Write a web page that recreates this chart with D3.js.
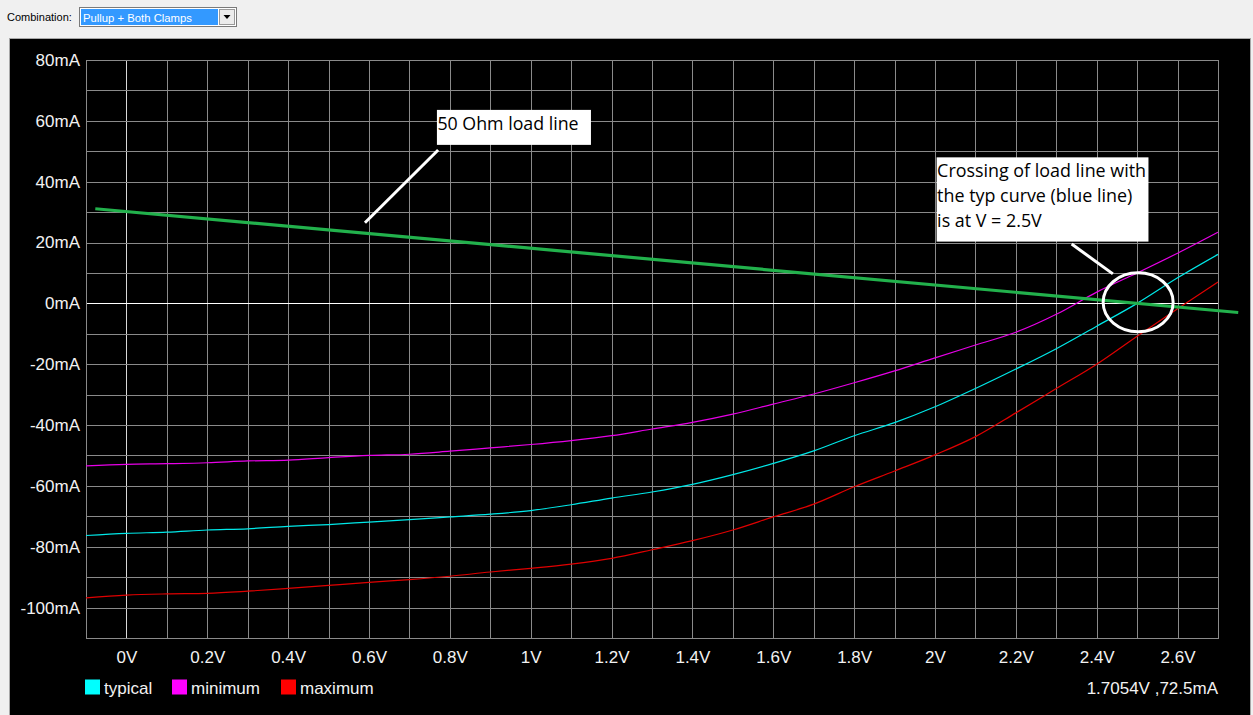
<!DOCTYPE html>
<html>
<head>
<meta charset="utf-8">
<script src="https://cdn.jsdelivr.net/npm/d3@7"></script>
<style>
  html, body { margin: 0; padding: 0; background: #f0f0f0; }
  svg { display: block; }
</style>
</head>
<body>
<svg id="chart" width="1253" height="715"></svg>
<script>
// Voltage sweep (V) shared by all three I/V curves
const volts = [-0.1, 0, 0.1, 0.2, 0.3, 0.4, 0.5, 0.6, 0.7, 0.8, 0.9, 1.0, 1.1, 1.2, 1.3,
               1.4, 1.5, 1.6, 1.7, 1.8, 1.9, 2.0, 2.1, 2.2, 2.3, 2.4, 2.5, 2.6, 2.7];

// Current (mA) for each corner
const typicalI = [-76.3, -75.6, -75.2, -74.5, -74.1, -73.3, -72.7, -71.9, -71.1, -70.2, -69.3,
                  -68.1, -66.2, -64.0, -62.0, -59.5, -56.3, -52.6, -48.5, -43.5, -39.2,
                  -34.0, -28.0, -21.6, -14.9, -7.5, 0.0, 8.4, 16.1];
const minimumI = [-53.4, -52.9, -52.7, -52.4, -51.8, -51.5, -50.7, -50.0, -49.6, -48.6, -47.5,
                  -46.4, -45.1, -43.5, -41.3, -39.1, -36.4, -33.1, -29.8, -26.1, -22.2,
                  -17.9, -13.7, -9.5, -3.6, 3.7, 10.0, 16.5, 23.4];
const maximumI = [-96.8, -95.9, -95.5, -95.3, -94.6, -93.7, -92.7, -91.7, -90.8, -89.7, -88.3,
                  -87.1, -85.7, -83.8, -81.0, -78.0, -74.5, -70.2, -66.0, -60.3, -55.1,
                  -49.8, -43.8, -36.0, -28.0, -20.0, -10.8, -1.8, 7.0];

// 50 ohm load line end points (V, mA)
const loadV = [-0.077, 2.75];
const loadI = [31.1, -3.0];

// Axis tick values
const xTickValues = [0, 0.2, 0.4, 0.6, 0.8, 1.0, 1.2, 1.4, 1.6, 1.8, 2.0, 2.2, 2.4, 2.6];
const yTickValues = [-100, -80, -60, -40, -20, 0, 20, 40, 60, 80];

const seriesNames = ["typical", "minimum", "maximum"];
const seriesColors = ["#00e8e8", "#e800e8", "#e00000"];
const legendColors = ["#00ffff", "#ff00ff", "#ff0000"];

// Callouts, corners and pointer ends in data units (V, mA)
const loadNoteLines = ["50 Ohm load line"];
const loadNoteBox = [[0.768, 63.6], [1.149, 52.1]];
const loadNotePointer = [[0.771, 50.4], [0.590, 26.5]];
const crossNoteLines = ["Crossing of load line with", "the typ curve (blue line)", "is at V = 2.5V"];
const crossNoteBox = [[2.004, 48.0], [2.528, 20.3]];
const crossNotePointer = [[2.338, 19.5], [2.440, 9.7]];
const crossingPoint = [2.5, 0];

const readout = "1.7054V ,72.5mA";
const comboLabel = "Combination:";
const comboValue = "Pullup + Both Clamps";

const W = 1253, H = 715;
const svg = d3.select("#chart");
const axisFont = "'Liberation Sans', Arial, sans-serif";
const noteFont = "'Open Sans', 'Noto Sans', sans-serif";

// Toolbar strip
svg.append("rect").attr("x", 0).attr("y", 0).attr("width", W).attr("height", 39).attr("fill", "#f0f0f0");
svg.append("text").attr("x", 7).attr("y", 21).attr("font-family", axisFont).attr("font-size", 11)
  .attr("fill", "#000").text(comboLabel);
const combo = svg.append("g");
combo.append("rect").attr("x", 79.5).attr("y", 7.5).attr("width", 157).attr("height", 19)
  .attr("fill", "#fff").attr("stroke", "#7a7a7a");
combo.append("rect").attr("x", 81).attr("y", 9).attr("width", 137).attr("height", 16).attr("fill", "#3399ff");
combo.append("text").attr("x", 83).attr("y", 21.5).attr("font-family", axisFont).attr("font-size", 11.3)
  .attr("fill", "#fff").text(comboValue);
combo.append("rect").attr("x", 219.5).attr("y", 9.5).attr("width", 15).attr("height", 15)
  .attr("fill", "#ececec").attr("stroke", "#9a9a9a");
combo.append("path").attr("d", "M223.5,15 L230.5,15 L227,19 Z").attr("fill", "#000");

// Dark chart panel
svg.append("rect").attr("x", 9.5).attr("y", 38.5).attr("width", 1241).attr("height", 680)
  .attr("fill", "#000").attr("stroke", "#a8a8a8");

const x = d3.scaleLinear().domain([-0.1, 2.7]).range([86, 1218]);
const y = d3.scaleLinear().domain([-110, 80]).range([638, 60]);

// Grid: every 0.1 V and every 10 mA
const gx = d3.range(-1, 28).map(i => +(i / 10).toFixed(1));
const gy = d3.range(-11, 9).map(i => i * 10);
const grid = svg.append("g").attr("shape-rendering", "crispEdges");
grid.selectAll("line.gv").data(gx).join("line").attr("class", "gv")
  .attr("x1", d => Math.round(x(d)) + 0.5).attr("x2", d => Math.round(x(d)) + 0.5)
  .attr("y1", y(80)).attr("y2", y(-110))
  .attr("stroke", d => d === 0 ? "#d8d8d8" : "#8a8a8a").attr("stroke-width", 1);
grid.selectAll("line.gh").data(gy).join("line").attr("class", "gh")
  .attr("x1", x(-0.1)).attr("x2", x(2.7))
  .attr("y1", d => Math.round(y(d)) + 0.5).attr("y2", d => Math.round(y(d)) + 0.5)
  .attr("stroke", d => d === 0 ? "#ffffff" : "#8a8a8a").attr("stroke-width", 1);
grid.append("rect").attr("x", x(-0.1) + 0.5).attr("y", y(80) + 0.5)
  .attr("width", x(2.7) - x(-0.1)).attr("height", y(-110) - y(80))
  .attr("fill", "none").attr("stroke", "#8a8a8a");

// Axes (labels only)
const fmtV = d => d3.format("~g")(d) + "V";
const fmtI = d => d + "mA";
const xAxis = svg.append("g").attr("transform", `translate(0,${y(-110)})`)
  .call(d3.axisBottom(x).tickValues(xTickValues).tickFormat(fmtV).tickSize(0).tickPadding(13));
const yAxis = svg.append("g").attr("transform", `translate(${x(-0.1)},0)`)
  .call(d3.axisLeft(y).tickValues(yTickValues).tickFormat(fmtI).tickSize(0).tickPadding(6));
[xAxis, yAxis].forEach(a => {
  a.select(".domain").remove();
  a.selectAll("text").attr("fill", "#f2f2f2").attr("font-family", axisFont).attr("font-size", 17);
});

// Curves (smooth through the sampled points)
const curves = [typicalI, minimumI, maximumI];
const line = d3.line().x(d => x(d[0])).y(d => y(d[1]));
const smooth = d3.line().x(d => x(d[0])).y(d => y(d[1])).curve(d3.curveMonotoneX);
curves.forEach((vals, k) => {
  svg.append("path")
    .datum(volts.map((v, i) => [v, vals[i]]))
    .attr("d", smooth).attr("fill", "none")
    .attr("stroke", seriesColors[k]).attr("stroke-width", 1.2);
});

// Load line
svg.append("path")
  .datum(loadV.map((v, i) => [v, loadI[i]]))
  .attr("d", line).attr("fill", "none").attr("stroke", "#22b14c").attr("stroke-width", 3.2);

// Callouts
function callout(box, pointer, lines, size, first, lead) {
  const x0 = x(box[0][0]), y0 = y(box[0][1]);
  const x1 = x(box[1][0]), y1 = y(box[1][1]);
  svg.append("line")
    .attr("x1", x(pointer[0][0])).attr("y1", y(pointer[0][1]))
    .attr("x2", x(pointer[1][0])).attr("y2", y(pointer[1][1]))
    .attr("stroke", "#fff").attr("stroke-width", 3);
  svg.append("rect").attr("x", x0).attr("y", y0).attr("width", x1 - x0).attr("height", y1 - y0)
    .attr("fill", "#fff");
  svg.append("g").selectAll("text").data(lines).join("text")
    .attr("x", x0 + 0.5).attr("y", (d, i) => y0 + first + i * lead)
    .attr("font-family", noteFont).attr("font-size", size).attr("fill", "#000")
    .text(d => d);
}
callout(loadNoteBox, loadNotePointer, loadNoteLines, 17.8, 20, 25);
callout(crossNoteBox, crossNotePointer, crossNoteLines, 17.9, 19.5, 25.3);

svg.append("ellipse")
  .attr("cx", x(crossingPoint[0]) + 1).attr("cy", y(crossingPoint[1]) - 1)
  .attr("rx", 35).attr("ry", 29.5)
  .attr("fill", "none").attr("stroke", "#fff").attr("stroke-width", 3);

// Legend
const legend = svg.append("g").attr("transform", `translate(${x(-0.1) - 1},688)`);
const offsets = [0, 87, 196];
seriesNames.forEach((name, k) => {
  const g = legend.append("g").attr("transform", `translate(${offsets[k]},0)`);
  g.append("rect").attr("x", 0).attr("y", -8.5).attr("width", 15).attr("height", 15).attr("fill", legendColors[k]);
  g.append("text").attr("x", 19).attr("y", 0).attr("dy", "0.35em")
    .attr("font-family", axisFont).attr("font-size", 17).attr("fill", "#f2f2f2").text(name);
});

// Cursor readout
svg.append("text").attr("x", x(2.7)).attr("y", 688).attr("dy", "0.35em").attr("text-anchor", "end")
  .attr("font-family", axisFont).attr("font-size", 17).attr("fill", "#f2f2f2").text(readout);
</script>
</body>
</html>
